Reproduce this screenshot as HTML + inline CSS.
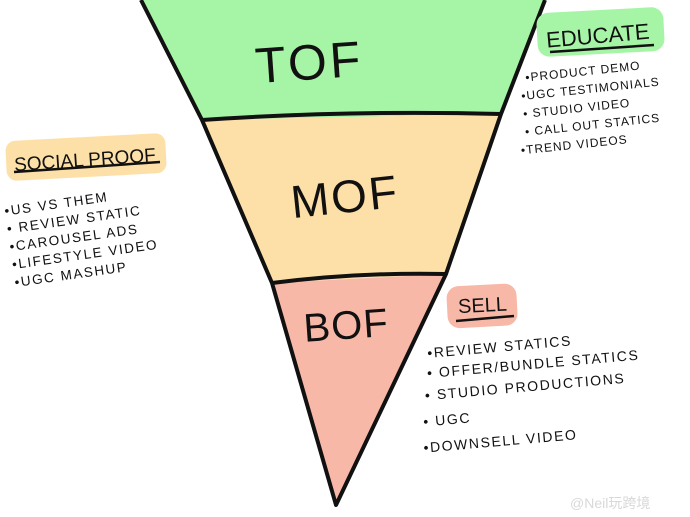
<!DOCTYPE html>
<html><head><meta charset="utf-8"><style>
html,body{margin:0;padding:0;background:#fff;}
svg{display:block}
text{font-family:"Liberation Sans","Noto Sans CJK SC",sans-serif;fill:#111;}
</style></head><body>
<svg width="690" height="517" viewBox="0 0 690 517" xmlns="http://www.w3.org/2000/svg">
<polygon points="141,0 545,0 501,114 202,120" fill="#a6f5a6"/>
<polygon points="202,120 501,114 446,274 272,283" fill="#fde0a8"/>
<polygon points="272,283 446,274 336,505" fill="#f8b8a8"/>
<path d="M141,0 L202,120 L272,283 L336,505 L446,274 L501,114 L545,0" fill="none" stroke="#111" stroke-width="4" stroke-linejoin="round"/>
<path d="M202,120 Q350,110 501,114" fill="none" stroke="#111" stroke-width="4"/>
<path d="M272,283 Q360,272 446,274" fill="none" stroke="#111" stroke-width="4"/>
<text x="255" y="80" font-size="50" font-weight="300" letter-spacing="3" transform="rotate(-4 300 60)">TOF</text>
<text x="290" y="213" font-size="46" letter-spacing="2" transform="rotate(-6 340 190)">MOF</text>
<text x="303" y="340" font-size="40" letter-spacing="1" transform="rotate(-4 330 320)">BOF</text>
<!-- Educate -->
<rect x="537" y="10" width="127" height="44" rx="12" fill="#a6f5a6" transform="rotate(-3 600 32)"/>
<text x="546" y="43" font-size="22" transform="rotate(-5 600 35)">EDUCATE</text>
<path d="M550,52 L654,45" stroke="#111" stroke-width="2.5"/>
<g font-size="12" letter-spacing="1" transform="rotate(-6 580 100)">
<text x="528" y="76">•PRODUCT DEMO</text>
<text x="522" y="94">•UGC TESTIMONIALS</text>
<text x="522" y="112">• STUDIO VIDEO</text>
<text x="522" y="130">• CALL OUT STATICS</text>
<text x="516" y="148">•TREND VIDEOS</text>
</g>
<!-- Social proof -->
<rect x="6" y="137" width="160" height="40" rx="10" fill="#fde0a8" transform="rotate(-3 86 157)"/>
<text x="14" y="166" font-size="19" transform="rotate(-4 86 160)">SOCIAL PROOF</text>
<path d="M14,172 L160,162" stroke="#111" stroke-width="2.5"/>
<g font-size="13.5" letter-spacing="1.6" transform="rotate(-8 90 230)">
<text x="8" y="204">•US VS THEM</text>
<text x="8" y="222">• REVIEW STATIC</text>
<text x="8" y="240">•CAROUSEL ADS</text>
<text x="8" y="258">•LIFESTYLE VIDEO</text>
<text x="8" y="276">•UGC MASHUP</text>
</g>
<!-- Sell -->
<rect x="447" y="285" width="70" height="42" rx="12" fill="#f8b8a8" transform="rotate(-3 480 305)"/>
<text x="458" y="312" font-size="20" transform="rotate(-3 480 305)">SELL</text>
<path d="M456,321 L514,316" stroke="#111" stroke-width="2.5"/>
<g font-size="14" letter-spacing="1.6" transform="rotate(-5 520 380)">
<text x="430" y="350">•REVIEW STATICS</text>
<text x="428" y="370">• OFFER/BUNDLE STATICS</text>
<text x="424" y="392">• STUDIO PRODUCTIONS</text>
<text x="420" y="418">• UGC</text>
<text x="418" y="444">•DOWNSELL VIDEO</text>
</g>
<text x="570" y="508" font-size="14" style="fill:#d8d8d8">@Neil玩跨境</text>
</svg>
</body></html>
